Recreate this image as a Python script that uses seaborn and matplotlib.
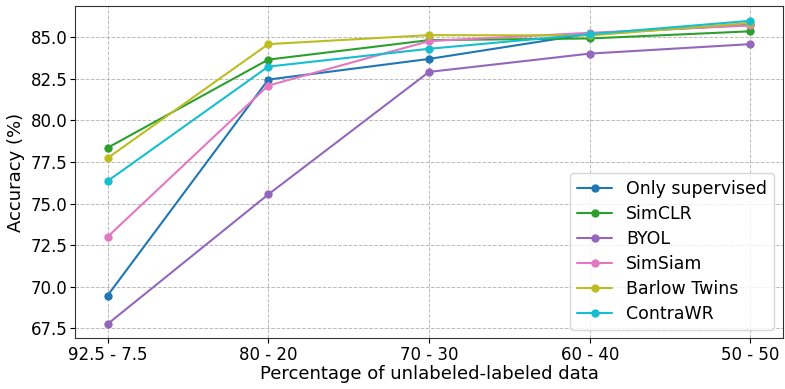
import matplotlib
matplotlib.use("Agg")
import matplotlib.pyplot as plt
import seaborn as sns
import pandas as pd

categories = ["92.5 - 7.5", "80 - 20", "70 - 30", "60 - 40", "50 - 50"]
only_supervised = [69.47, 82.45, 83.69, 85.20, 85.75]
simclr = [78.35, 83.65, 84.82, 84.92, 85.35]
byol = [67.76, 75.55, 82.91, 84.01, 84.58]
simsiam = [73.00, 82.09, 84.76, 85.26, 85.70]
barlow = [77.73, 84.58, 85.12, 85.10, 85.85]
contrawr = [76.35, 83.23, 84.30, 85.18, 85.98]

series = {
    "Only supervised": only_supervised,
    "SimCLR": simclr,
    "BYOL": byol,
    "SimSiam": simsiam,
    "Barlow Twins": barlow,
    "ContraWR": contrawr,
}
colors = ["#1f77b4", "#2ca02c", "#9467bd", "#e377c2", "#bcbd22", "#17becf"]

rows = []
for name, vals in series.items():
    for i, v in enumerate(vals):
        rows.append({"x": i, "acc": v, "method": name})
df = pd.DataFrame(rows)

sns.set_style("ticks")
plt.rcParams["font.family"] = ["DejaVu Sans"]
plt.rcParams["text.color"] = "black"
plt.rcParams["axes.labelcolor"] = "black"
plt.rcParams["xtick.color"] = "black"
plt.rcParams["ytick.color"] = "black"

fig, ax = plt.subplots(figsize=(7.85, 3.89), dpi=100)
sns.lineplot(data=df, x="x", y="acc", hue="method", palette=colors,
             marker="o", markersize=6, markeredgewidth=0, linewidth=1.5, ax=ax)
ax.set_xticks(range(len(categories)))
ax.set_xticklabels(categories)
ax.set_xlim(-0.2, 4.2)
ax.set_ylim(66.9, 86.88)
ax.set_yticks([67.5, 70.0, 72.5, 75.0, 77.5, 80.0, 82.5, 85.0])
ax.tick_params(labelsize=12, pad=2)
ax.set_xlabel("Percentage of unlabeled-labeled data", fontsize=13, labelpad=1)
ax.set_ylabel("Accuracy (%)", fontsize=13, labelpad=4)
ax.grid(True, linestyle="--", color="#bbbbbb", linewidth=0.7)
for s in ax.spines.values():
    s.set_visible(True)
    s.set_color("#333333")
leg = ax.legend(title=None, loc="lower right", fontsize=12.5, framealpha=0.8,
                borderaxespad=0.5, labelspacing=0.4)
for t in leg.get_texts():
    t.set_color("black")
fig.subplots_adjust(left=0.096, right=0.997, top=0.985, bottom=0.13)
fig.savefig("out.png", dpi=100)
